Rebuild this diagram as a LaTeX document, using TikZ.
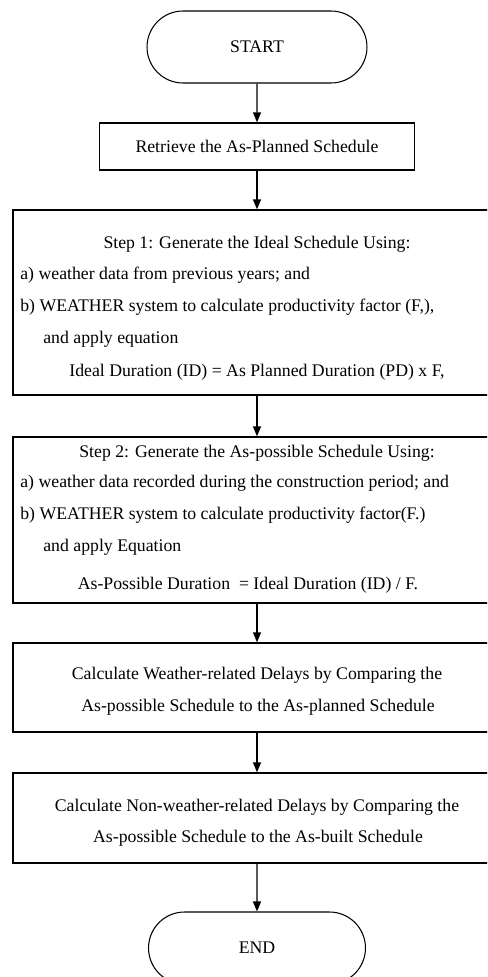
\documentclass[tikz,border=0pt]{standalone}
\usepackage{fontspec}
\setmainfont{Liberation Serif}
\usetikzlibrary{shapes.misc, arrows.meta}

\begin{document}
\begin{tikzpicture}[x=0.02cm, y=-0.02cm, every node/.style={font=\fontsize{10.1}{12}\selectfont}]
  % Styles
  \tikzset{
    terminal/.style={rounded rectangle, draw=black, line width=0.6pt, minimum width=4.4cm, minimum height=1.44cm, inner sep=0pt},
    taskbox/.style={rectangle, draw=black, line width=0.8pt, minimum width=9.76cm, inner sep=0pt},
    textline/.style={inner sep=0pt, text height=7pt, text depth=2pt},
    flow/.style={-{Triangle[length=2mm, width=1.6mm]}, line width=0.8pt}
  }

  % Page frame - the wide boxes run off the right edge
  \useasboundingbox (0,0) rectangle (487,977);
  \clip (0,0) rectangle (487,977);

  % Terminals and boxes
  \node[terminal] (start) at (257,47) {START};
  \node[taskbox, minimum width=6.3cm, minimum height=0.94cm] (retrieve) at (257,146.5) {Retrieve the As-Planned Schedule};
  \node[taskbox, minimum height=3.7cm] (step1) at (257,302.5) {};
  \node[taskbox, minimum height=3.32cm] (step2) at (257,520) {};
  \node[taskbox, minimum height=1.78cm] (weather) at (257,687.5) {};
  \node[taskbox, minimum height=1.8cm] (nonweather) at (257,818) {};
  \node[terminal, minimum width=4.34cm] (end) at (257,948) {END};

  % Step 1 text
  \node[textline] (s1title) at (257,244) {Step 1: Generate the Ideal Schedule Using:};
  \node[textline, anchor=west] (s1a) at (20,275) {a) weather data from previous years; and};
  \node[textline, anchor=west] (s1b) at (20,307) {b) WEATHER system to calculate productivity factor (F,),};
  \node[textline, anchor=west] (s1c) at (43,339) {and apply equation};
  \node[textline] (s1eq) at (257,372) {Ideal Duration (ID) = As Planned Duration (PD) x F,};

  % Step 2 text
  \node[textline] (s2title) at (257,453) {Step 2: Generate the As-possible Schedule Using:};
  \node[textline, anchor=west] (s2a) at (20,483) {a) weather data recorded during the construction period; and};
  \node[textline, anchor=west] (s2b) at (20,515) {b) WEATHER system to calculate productivity factor(F.)};
  \node[textline, anchor=west] (s2c) at (43,547) {and apply Equation};
  \node[textline] (s2eq) at (248,585) {As-Possible Duration~\ = Ideal Duration (ID) / F.};

  % Delay text
  \node[textline] (w1) at (257,675) {Calculate Weather-related Delays by Comparing the};
  \node[textline] (w2) at (258,707) {As-possible Schedule to the As-planned Schedule};
  \node[textline] (n1) at (257,807) {Calculate Non-weather-related Delays by Comparing the};
  \node[textline] (n2) at (258,838) {As-possible Schedule to the As-built Schedule};

  % Flows
  \draw[flow] (start) -- (retrieve);
  \draw[flow] (retrieve) -- (step1);
  \draw[flow] (step1) -- (step2);
  \draw[flow] (step2) -- (weather);
  \draw[flow] (weather) -- (nonweather);
  \draw[flow] (nonweather) -- (end);

\end{tikzpicture}
\end{document}
